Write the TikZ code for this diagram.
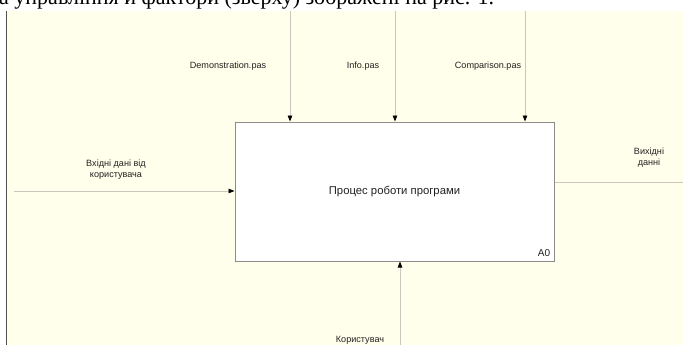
\documentclass[tikz,border=0pt]{standalone}
\usepackage{fontspec}
\setmainfont{Liberation Sans}
\newfontfamily\serifrm{Liberation Serif}
\usetikzlibrary{arrows.meta}
\definecolor{cream}{HTML}{FFFFEB}
\definecolor{linegray}{HTML}{C8C8BC}
\definecolor{boxgray}{HTML}{8C8C8C}
\definecolor{darkline}{HTML}{505050}
\definecolor{labeltext}{HTML}{222222}
\begin{document}
\begin{tikzpicture}[x=1pt,y=-1pt,
  conn/.style={draw=linegray, line width=0.9pt,
    -{Triangle[length=6pt,width=4.5pt,color=black,fill=black]}},
  connplain/.style={draw=linegray, line width=0.9pt},
  lbl/.style={font=\fontsize{9.1}{11}\selectfont, text=labeltext, align=center, inner sep=0pt},
  funcbox/.style={draw=boxgray, fill=white, line width=1pt, minimum width=319pt, minimum height=139pt, inner sep=0pt,
    font=\fontsize{11.3}{13}\selectfont, text=labeltext}
]
\useasboundingbox (0,0) rectangle (683,345);
\fill[white] (0,0) rectangle (683,345);
\fill[cream] (7,11) rectangle (683,345);
\draw[line width=1pt, darkline] (6.5,11) -- (6.5,345);
\node[anchor=base west, font=\serifrm\fontsize{22}{22}\selectfont, inner sep=0pt] (toptext) at (-1,4.5)
  {а управління й фактори (зверху) зображені на рис. 1.};

\node[funcbox] (a0) at (394.5,191.5) {Процес роботи програми};
\node[lbl, anchor=center, font=\fontsize{10}{12}\selectfont] (a0id) at (544,253) {A0};

\coordinate (inL) at (14,191);
\coordinate (c1) at (290,11);
\coordinate (c2) at (395,11);
\coordinate (c3) at (525,11);
\coordinate (outR) at (683,182);
\coordinate (mech) at (400,345);

\draw[conn] (inL) -- (inL -| a0.west);
\draw[conn] (c1) -- (c1 |- a0.north);
\draw[conn] (c2) -- (c2 |- a0.north);
\draw[conn] (c3) -- (c3 |- a0.north);
\draw[connplain] (outR -| a0.east) -- (outR);
\draw[conn] (mech) -- (mech |- a0.south);

\node[lbl] (lin) at (116,169.5) {Вхідні дані від\\користувача};
\node[lbl] (lout) at (649,157.5) {Вихідні\\данні};
\node[lbl] (l1) at (228,66) {Demonstration.pas};
\node[lbl] (l2) at (363,66) {Info.pas};
\node[lbl] (l3) at (488,66) {Comparison.pas};
\node[lbl] (lm) at (360,340) {Користувач};
\end{tikzpicture}
\end{document}
